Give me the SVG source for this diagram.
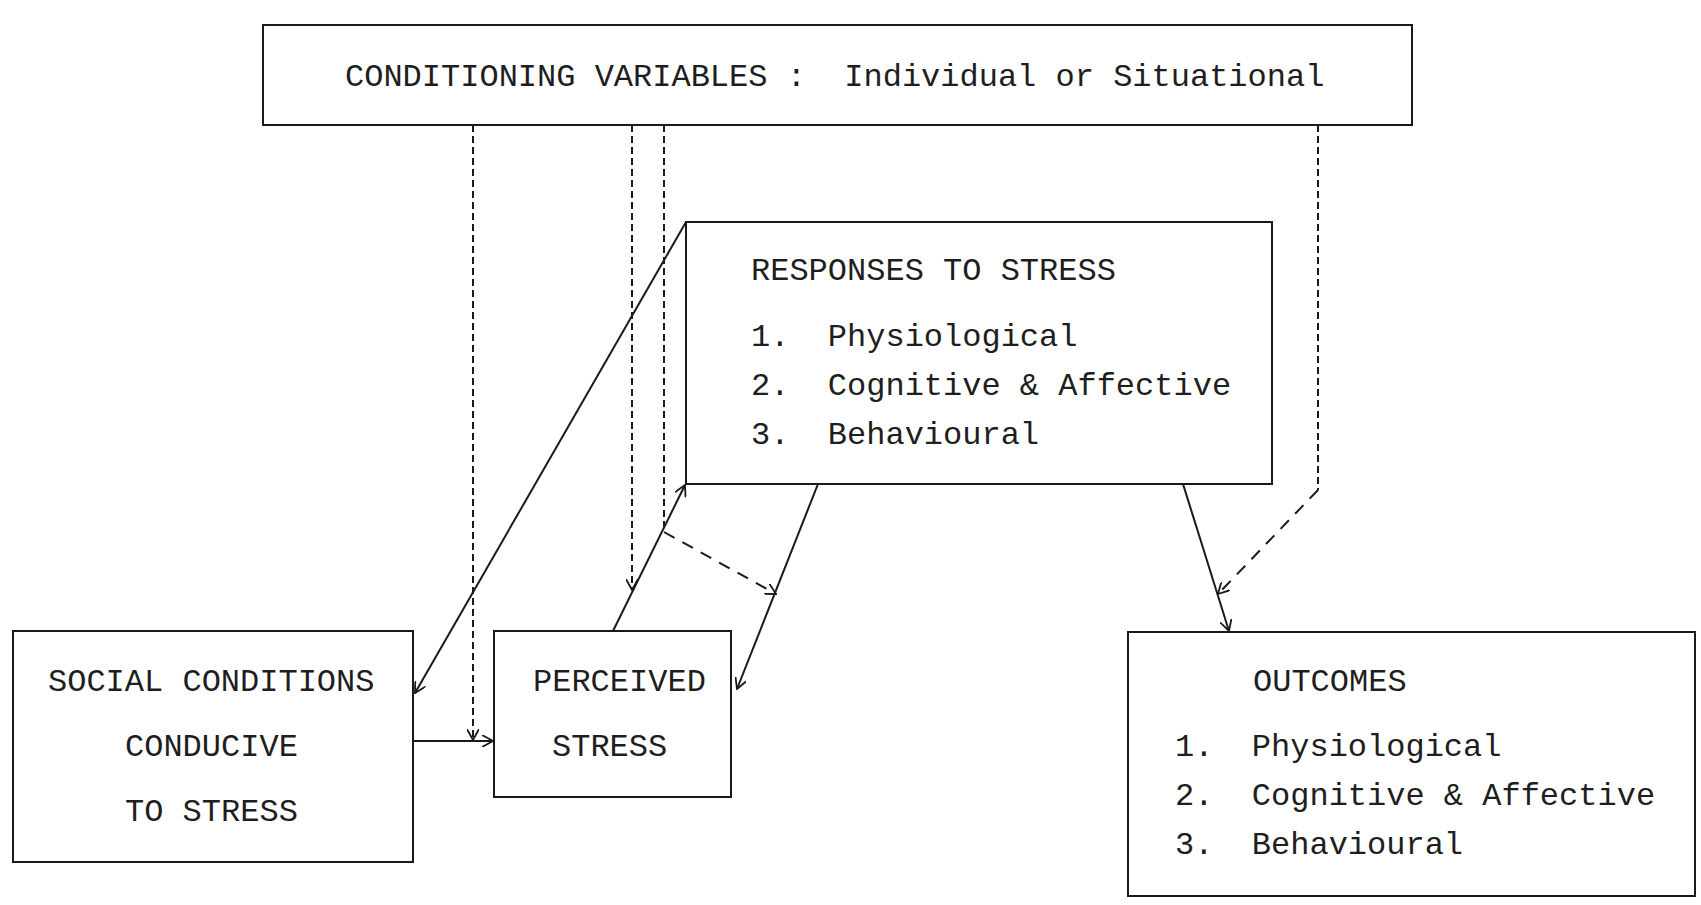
<svg xmlns="http://www.w3.org/2000/svg" width="1701" height="905" viewBox="0 0 1701 905">
<defs>
<style>
.box{fill:none;stroke:#1a1a1a;stroke-width:2}
.t{font-family:"Liberation Mono","Courier New",monospace;font-size:32px;fill:#1e1e1e}
.sol{fill:none;stroke:#1a1a1a;stroke-width:2}
.dv{fill:none;stroke:#1a1a1a;stroke-width:2;stroke-dasharray:7 4}
.dl{fill:none;stroke:#1a1a1a;stroke-width:2;stroke-dasharray:12 9}
</style>
<marker id="ah" viewBox="0 0 12 12" refX="11" refY="6" markerWidth="12" markerHeight="12" markerUnits="userSpaceOnUse" orient="auto">
<path d="M0,0 L11,6 L0,12" fill="none" stroke="#1a1a1a" stroke-width="1.8"/>
</marker>
</defs>
<rect width="1701" height="905" fill="#ffffff"/>
<g id="conditioning">
<rect class="box" x="263" y="25" width="1149" height="100"/>
<text class="t" x="345" y="86" xml:space="preserve">CONDITIONING VARIABLES :  Individual or Situational</text>
</g>
<g id="responses">
<rect class="box" x="686" y="222" width="586" height="262"/>
<text class="t" x="751" y="280">RESPONSES TO STRESS</text>
<text class="t" x="751" y="346" xml:space="preserve">1.  Physiological</text>
<text class="t" x="751" y="395" xml:space="preserve">2.  Cognitive &amp; Affective</text>
<text class="t" x="751" y="444" xml:space="preserve">3.  Behavioural</text>
</g>
<g id="social">
<rect class="box" x="13" y="631" width="400" height="231"/>
<text class="t" x="48" y="691">SOCIAL CONDITIONS</text>
<text class="t" x="125" y="756">CONDUCIVE</text>
<text class="t" x="125" y="821">TO STRESS</text>
</g>
<g id="perceived">
<rect class="box" x="494" y="631" width="237" height="166"/>
<text class="t" x="533" y="691">PERCEIVED</text>
<text class="t" x="552" y="756">STRESS</text>
</g>
<g id="outcomes">
<rect class="box" x="1128" y="632" width="567" height="264"/>
<text class="t" x="1253" y="691">OUTCOMES</text>
<text class="t" x="1175" y="756" xml:space="preserve">1.  Physiological</text>
<text class="t" x="1175" y="805" xml:space="preserve">2.  Cognitive &amp; Affective</text>
<text class="t" x="1175" y="854" xml:space="preserve">3.  Behavioural</text>
</g>
<g id="connectors">
<line class="sol" x1="413" y1="741" x2="493" y2="741" marker-end="url(#ah)"/>
<line class="dv" x1="473" y1="125" x2="473" y2="740" marker-end="url(#ah)"/>
<line class="dv" x1="632" y1="125" x2="632" y2="590" marker-end="url(#ah)"/>
<polyline class="dv" points="664,125 664,532"/>
<line class="dl" x1="664" y1="532" x2="776" y2="594" marker-end="url(#ah)"/>
<line class="sol" x1="613" y1="631" x2="685" y2="485" marker-end="url(#ah)"/>
<line class="sol" x1="818" y1="484" x2="737" y2="689" marker-end="url(#ah)"/>
<line class="sol" x1="686" y1="222" x2="415" y2="693" marker-end="url(#ah)"/>
<line class="sol" x1="1183" y1="484" x2="1229" y2="631" marker-end="url(#ah)"/>
<polyline class="dv" points="1318,125 1318,490"/>
<line class="dl" x1="1318" y1="490" x2="1218" y2="594" marker-end="url(#ah)"/>
</g>
</svg>
